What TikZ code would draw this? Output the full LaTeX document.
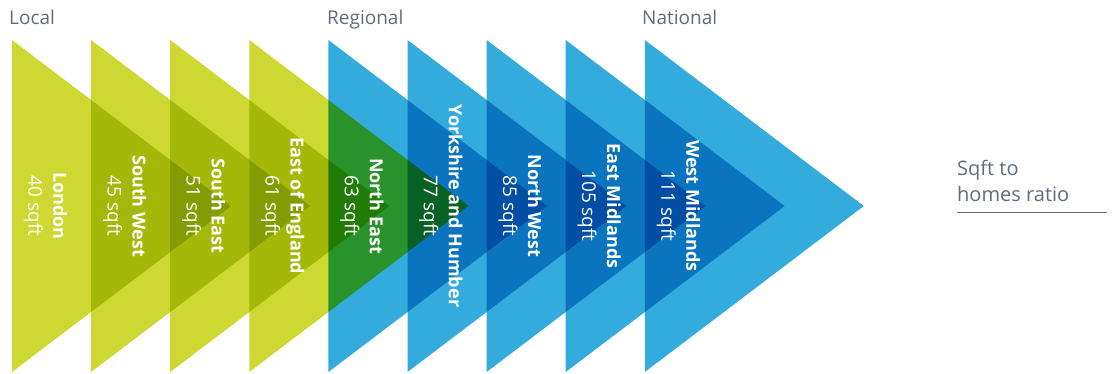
\documentclass[tikz,border=0pt]{standalone}
\usepackage{fontspec}
\setmainfont{Open Sans}
\usetikzlibrary{positioning}

\definecolor{lime}{RGB}{205,217,50}
\definecolor{sky}{RGB}{51,172,221}
\definecolor{caption}{RGB}{96,108,124}

\begin{document}
\begin{tikzpicture}[
  x=1pt, y=-1pt,
  heading/.style={font=\fontsize{19}{22}\selectfont, text=caption, anchor=base west, inner sep=0pt},
  plate/.style={rotate=-90, text=white, align=center, inner sep=0pt,
    font=\fontsize{18}{25}\selectfont},
  rule/.style={draw=caption, line width=1pt}
]
\useasboundingbox (0,0) rectangle (1117,374);

% overlapping arrow heads, darkened where they overlap
\begin{scope}[blend group=multiply]
  \foreach \i/\col in {0/lime,1/lime,2/lime,3/lime,4/sky,5/sky,6/sky,7/sky,8/sky}
    \fill[\col] ({12+79.1*\i},40) -- ({231+79.1*\i},206) -- ({12+79.1*\i},372) -- cycle;
\end{scope}

% region names and their sqft values
\foreach \i/\tag/\name/\val in {0/london/London/40, 1/sw/South West/45, 2/se/South East/51,
    3/ee/East of England/61, 4/ne/North East/63, 5/yh/Yorkshire and Humber/77,
    6/nw/North West/85, 7/em/East Midlands/105, 8/wm/West Midlands/111}
  \node[plate] (plate-\tag) at ({12+79.1*\i+33.5},206)
    {\textbf{\name}\\{\fontsize{19}{25}\selectfont\val\ sqft}};

% scale headings
\node[heading] (local) at (9,25) {Local};
\node[heading] (regional) at (327,25) {Regional};
\node[heading] (national) at (642,25) {National};

% legend on the right
\node[heading, align=left, font=\fontsize{20}{26}\selectfont] (ratio) at (957,202)
  {Sqft to\\homes ratio};
\coordinate (rule-a) at (957,213);
\coordinate (rule-b) at (1107,213);
\draw[rule] (rule-a) -- (rule-b);

\end{tikzpicture}
\end{document}
